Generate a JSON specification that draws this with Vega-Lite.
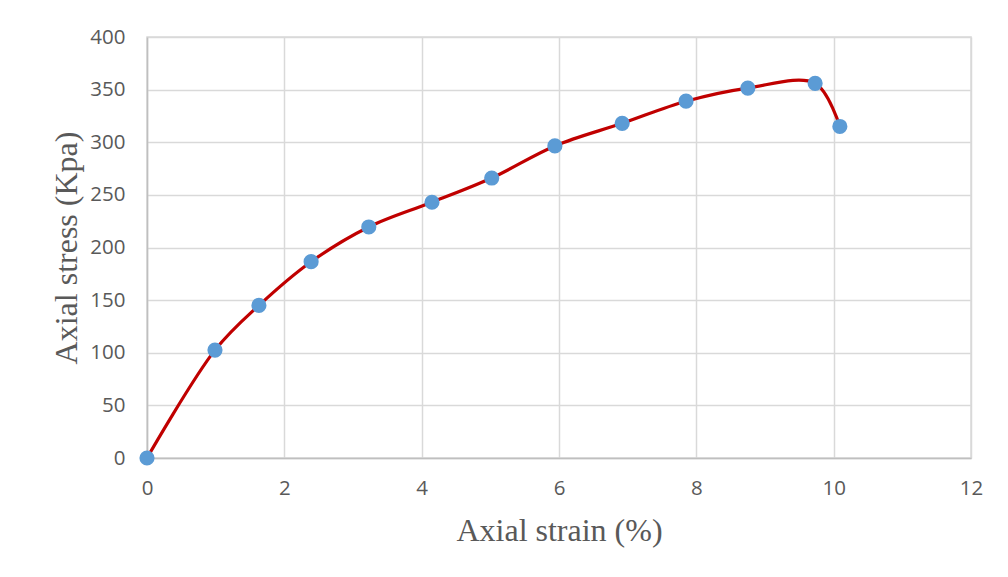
{
  "$schema": "https://vega.github.io/schema/vega-lite/v6.json",
  "autosize": "none",
  "width": 824,
  "height": 421,
  "padding": {"left": 147, "top": 37, "right": 37, "bottom": 119},
  "background": "white",
  "config": {
    "view": {"stroke": "#d9d9d9", "strokeWidth": 1.5},
    "axis": {
      "labelFont": "Open Sans",
      "labelFontSize": 20.5,
      "labelColor": "#595959",
      "labelFlush": false,
      "labelBound": false,
      "titleFont": "Liberation Serif",
      "titleFontSize": 32,
      "titleFontWeight": "normal",
      "titleColor": "#595959",
      "gridColor": "#d9d9d9",
      "gridWidth": 1.5,
      "domainColor": "#bfbfbf",
      "domainWidth": 1.5,
      "ticks": false
    }
  },
  "data": {
    "values": [
      {"strain": 0, "stress": 0},
      {"strain": 0.99, "stress": 102.5},
      {"strain": 1.63, "stress": 145},
      {"strain": 2.39, "stress": 186.5},
      {"strain": 3.23, "stress": 219.5},
      {"strain": 4.15, "stress": 243},
      {"strain": 5.02, "stress": 266},
      {"strain": 5.94, "stress": 296.5},
      {"strain": 6.92, "stress": 318},
      {"strain": 7.85, "stress": 339},
      {"strain": 8.75, "stress": 351.5},
      {"strain": 9.73, "stress": 356},
      {"strain": 10.09, "stress": 315}
    ]
  },
  "encoding": {
    "x": {
      "field": "strain",
      "type": "quantitative",
      "scale": {"domain": [0, 12], "nice": false, "zero": true},
      "axis": {"values": [0, 2, 4, 6, 8, 10, 12], "title": "Axial strain (%)", "labelPadding": 20, "titlePadding": 17}
    },
    "y": {
      "field": "stress",
      "type": "quantitative",
      "scale": {"domain": [0, 400], "nice": false},
      "axis": {"values": [0, 50, 100, 150, 200, 250, 300, 350, 400], "title": "Axial stress (Kpa)", "labelPadding": 22, "titlePadding": 6}
    }
  },
  "layer": [
    {
      "mark": {"type": "line", "interpolate": "catmull-rom", "color": "#c00000", "strokeWidth": 3.2}
    },
    {
      "mark": {"type": "point", "filled": true, "color": "#5b9bd5", "size": 230, "opacity": 1}
    }
  ]
}
